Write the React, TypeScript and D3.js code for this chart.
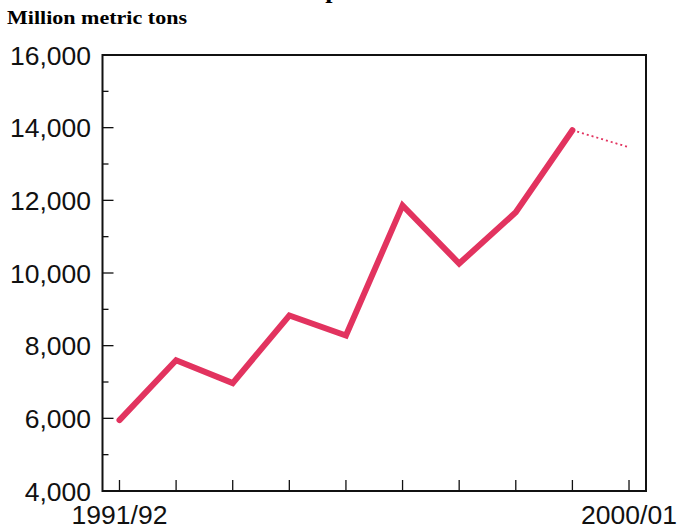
import React, { useEffect, useRef } from "react";
import * as d3 from "d3";

const categories = ["1991/92", "1992/93", "1993/94", "1994/95", "1995/96", "1996/97", "1997/98", "1998/99", "1999/00", "2000/01"];
const actualValues = [5950, 7600, 6970, 8830, 8280, 11860, 10260, 11670, 13930];
const projectedValues = [13930, 13460];
const projectedCategories = ["1999/00", "2000/01"];
const yMajorTicks = [4000, 6000, 8000, 10000, 12000, 14000, 16000];
const yMinorTicks = [5000, 7000, 9000, 11000, 13000, 15000];
const xLabelCategories = ["1991/92", "2000/01"];

const W = 678, H = 529;
const M = { left: 102.5, right: 32, top: 55, bottom: 38 };

export default function App() {
  const ref = useRef<SVGSVGElement>(null);
  useEffect(() => {
    const svg = d3.select(ref.current);
    svg.selectAll("*").remove();
    const x = d3.scalePoint<string>().domain(categories).range([M.left, W - M.right]).padding(0.3);
    const y = d3.scaleLinear().domain([4000, 16000]).range([H - M.bottom, M.top]);
    const color = "#E2335F";

    svg.append("text").attr("x", 339).attr("y", -2).attr("text-anchor", "middle")
      .attr("font-family", "Liberation Serif").attr("font-weight", "bold").attr("font-size", 26).text("Exports");
    svg.append("text").attr("x", 7).attr("y", 24)
      .attr("font-family", "Liberation Serif").attr("font-weight", "bold").attr("font-size", 19)
      .attr("textLength", 180).attr("lengthAdjust", "spacingAndGlyphs").text("Million metric tons");

    // frame
    svg.append("rect").attr("x", M.left).attr("y", M.top)
      .attr("width", W - M.right - M.left).attr("height", H - M.bottom - M.top)
      .attr("fill", "none").attr("stroke", "#111").attr("stroke-width", 2);

    const g = svg.append("g").attr("stroke", "#111").attr("stroke-width", 1.3);
    yMajorTicks.slice(1, -1).forEach(v => {
      g.append("line").attr("x1", M.left).attr("x2", M.left + 11).attr("y1", y(v)).attr("y2", y(v));
    });
    yMinorTicks.forEach(v => {
      g.append("line").attr("x1", M.left).attr("x2", M.left + 6).attr("y1", y(v)).attr("y2", y(v));
    });
    categories.forEach(c => {
      g.append("line").attr("x1", x(c)!).attr("x2", x(c)!).attr("y1", H - M.bottom).attr("y2", H - M.bottom - 11);
    });

    svg.selectAll(".yl").data(yMajorTicks).enter().append("text")
      .attr("x", 91).attr("y", d => y(d) + 9.5).attr("text-anchor", "end")
      .attr("font-family", "Liberation Sans").attr("font-size", 26.5).attr("fill", "#111")
      .text(d => d3.format(",")(d));
    svg.selectAll(".xl").data(xLabelCategories).enter().append("text")
      .attr("x", d => x(d)!).attr("y", 524).attr("text-anchor", "middle")
      .attr("font-family", "Liberation Sans").attr("font-size", 26.5).attr("fill", "#111")
      .text(d => d);

    const line = d3.line<[string, number]>().x(d => x(d[0])!).y(d => y(d[1]));
    svg.append("path").datum(categories.slice(0, actualValues.length).map((c, i) => [c, actualValues[i]] as [string, number]))
      .attr("d", line).attr("fill", "none").attr("stroke", color).attr("stroke-width", 6)
      .attr("stroke-linejoin", "miter").attr("stroke-linecap", "round");
    svg.append("path").datum(projectedCategories.map((c, i) => [c, projectedValues[i]] as [string, number]))
      .attr("d", line).attr("fill", "none").attr("stroke", color).attr("stroke-width", 1.8)
      .attr("stroke-dasharray", "2,3");
  }, []);
  return (
    <svg ref={ref} width={W} height={H} style={{ position: "absolute", left: 0, top: 0, background: "#fff" }} />
  );
}
